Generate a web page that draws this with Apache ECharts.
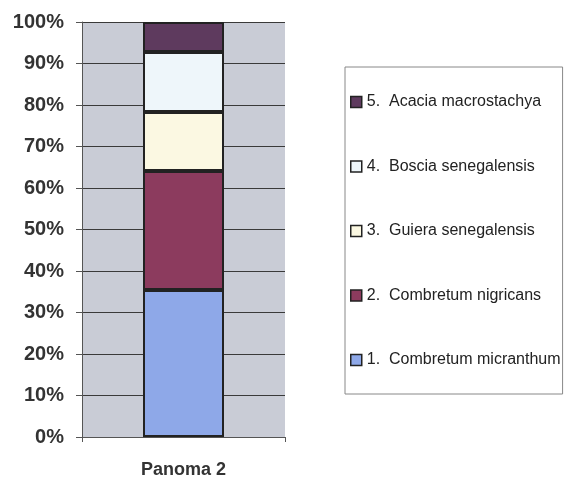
<!DOCTYPE html>
<html><head><meta charset="utf-8">
<script src="https://cdn.jsdelivr.net/npm/echarts@6/dist/echarts.min.js"></script>
<style>html,body{margin:0;padding:0;background:#fff}#c{width:567px;height:479px}</style>
</head><body><div id="c"></div>
<script>
const categories = ['Panoma 2'];
const seriesNames = ['1.  Combretum micranthum','2.  Combretum nigricans','3.  Guiera senegalensis','4.  Boscia senegalensis','5.  Acacia macrostachya'];
const seriesValues = [[35.4],[28.7],[14.2],[14.5],[7.2]];
const seriesColors = ['#8ea8e8','#8c3b5e','#fbf8e2','#eef6fa','#5e3a5e'];
const legendOrder = ['5.  Acacia macrostachya','4.  Boscia senegalensis','3.  Guiera senegalensis','2.  Combretum nigricans','1.  Combretum micranthum'];

const chart = echarts.init(document.getElementById('c'));
chart.setOption({
  animation:false,
  grid:{left:82,right:282,top:22,bottom:42,show:true,backgroundColor:'#c9ccd6',borderWidth:0},
  legend:{
    orient:'vertical', left:345, top:67, data:legendOrder,
    icon:'rect', itemWidth:11, itemHeight:11, itemGap:48.5,
    padding:[27,2,26,5], borderColor:'#888', borderWidth:1,
    itemStyle:{borderColor:'#222',borderWidth:1.5},
    textStyle:{fontFamily:'Liberation Sans, Arial',fontSize:16,color:'#222',lineHeight:16}
  },
  xAxis:{type:'category',data:categories,
    axisLine:{lineStyle:{color:'#555',width:1}},
    axisTick:{show:true,length:5,lineStyle:{color:'#555'}},
    axisLabel:{margin:24,fontFamily:'Liberation Sans, Arial',fontWeight:'bold',fontSize:18,color:'#333'}},
  yAxis:{type:'value',min:0,max:100,interval:10,
    axisLine:{show:true,lineStyle:{color:'#555',width:1}},
    axisTick:{show:true,length:6,lineStyle:{color:'#555'}},
    splitLine:{lineStyle:{color:'#3a3a3a',width:1}},
    axisLabel:{formatter:'{value}%',margin:18,fontFamily:'Liberation Sans, Arial',fontWeight:'bold',fontSize:20,color:'#333'}},
  series: seriesNames.map((n,i)=>({
    name:n,type:'bar',stack:'s',data:seriesValues[i],barWidth:81,
    itemStyle:{color:seriesColors[i],borderColor:'#222',borderWidth:2}
  }))
});
</script></body></html>
